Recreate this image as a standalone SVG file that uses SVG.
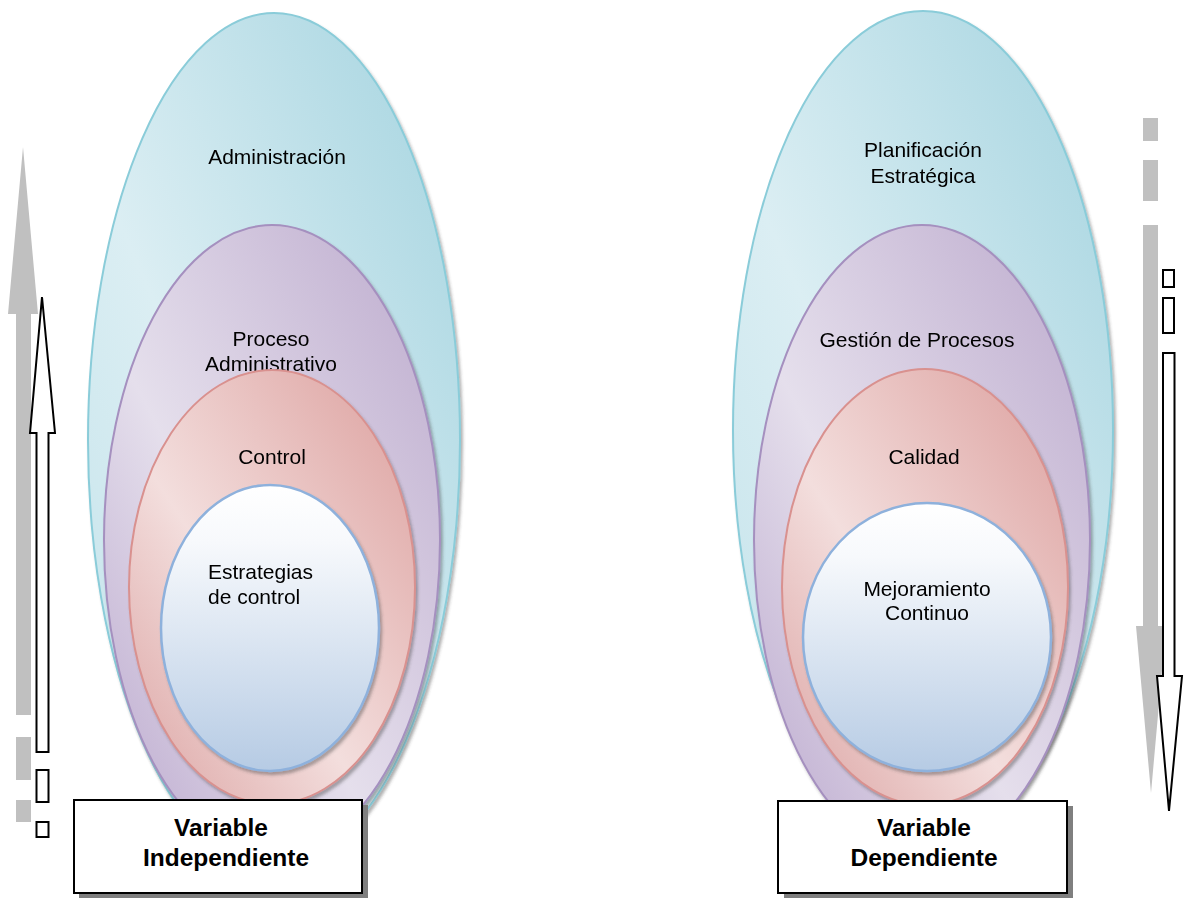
<svg xmlns="http://www.w3.org/2000/svg" width="1186" height="898" viewBox="0 0 1186 898">
<defs>
<linearGradient id="gCyan" x1="0" y1="1" x2="1" y2="0">
<stop offset="0" stop-color="#c2e2ea"/>
<stop offset="0.42" stop-color="#dbeef3"/>
<stop offset="1" stop-color="#a3d3df"/>
</linearGradient>
<linearGradient id="gPurple" x1="0" y1="1" x2="1" y2="0">
<stop offset="0" stop-color="#b9a6cc"/>
<stop offset="0.42" stop-color="#e5dfec"/>
<stop offset="1" stop-color="#bcaacd"/>
</linearGradient>
<linearGradient id="gRed" x1="0" y1="1" x2="1" y2="0">
<stop offset="0" stop-color="#dba2a1"/>
<stop offset="0.42" stop-color="#f3dedd"/>
<stop offset="1" stop-color="#dc9f9d"/>
</linearGradient>
<linearGradient id="gBlue" x1="0" y1="0" x2="0" y2="1">
<stop offset="0" stop-color="#ffffff"/>
<stop offset="0.2" stop-color="#f7f9fc"/>
<stop offset="1" stop-color="#b6cbe4"/>
</linearGradient>
<filter id="sh" x="-10%" y="-10%" width="125%" height="125%">
<feDropShadow dx="2" dy="3" stdDeviation="1.5" flood-color="#404040" flood-opacity="0.4"/>
</filter>
<style>
.cy{fill:url(#gCyan);stroke:#8accd9;stroke-width:2}
.pu{fill:url(#gPurple);stroke:#a590bf;stroke-width:2}
.re{fill:url(#gRed);stroke:#d9918f;stroke-width:2}
.bl{fill:url(#gBlue);stroke:#8eb1dc;stroke-width:2.5}
.lbl{font-family:"Liberation Sans",Arial,sans-serif;font-size:21px;fill:#000}
.c{text-anchor:middle}
.box{fill:#fff;stroke:#000;stroke-width:2}
.shd{fill:#7f7f7f}
.bt{font-family:"Liberation Sans",Arial,sans-serif;font-size:24.5px;font-weight:bold;fill:#000;text-anchor:middle}
.ga{fill:#c0c0c0}
.wa{fill:#fff;stroke:#000;stroke-width:2;stroke-linejoin:miter}
</style>
</defs>
<rect width="1186" height="898" fill="#fff"/>

<g id="arrows">
<polygon class="ga" points="23,147 38,314 31,314 31,715 16,715 16,314 8,314"/>
<rect class="ga" x="16" y="737" width="15" height="43"/>
<rect class="ga" x="16" y="800" width="15" height="22"/>
<polygon class="wa" points="42,297 55,433 48.5,433 48.5,752 36.5,752 36.5,433 30,433"/>
<rect class="wa" x="36.5" y="770" width="12" height="32"/>
<rect class="wa" x="36.5" y="822" width="12" height="15"/>

<rect class="ga" x="1143" y="118" width="15" height="23"/>
<rect class="ga" x="1143" y="160" width="15" height="41"/>
<polygon class="ga" points="1143,225 1158,225 1158,626 1166,626 1151,793 1136,626 1143,626"/>
<rect class="wa" x="1163" y="270" width="11" height="17"/>
<rect class="wa" x="1163" y="298" width="11" height="35"/>
<polygon class="wa" points="1163,353 1174.5,353 1174.5,676 1182,676 1169,811 1157,676 1163,676"/>
</g>

<g id="administracion" filter="url(#sh)">
<ellipse class="cy" cx="274" cy="440" rx="186" ry="427"/>
<text class="lbl c" x="277" y="164">Administración</text>
</g>
<g id="proceso-administrativo" filter="url(#sh)">
<ellipse class="pu" cx="272" cy="540" rx="168" ry="315"/>
<text class="lbl c" x="271" y="346">Proceso</text>
<text class="lbl c" x="271" y="371">Administrativo</text>
</g>
<g id="control" filter="url(#sh)">
<ellipse class="re" cx="272" cy="587" rx="143" ry="217"/>
<text class="lbl c" x="272" y="464">Control</text>
</g>
<g id="estrategias" filter="url(#sh)">
<ellipse class="bl" cx="270" cy="628" rx="109" ry="143"/>
<text class="lbl" x="208" y="579">Estrategias</text>
<text class="lbl" x="208" y="604">de control</text>
</g>

<g id="planificacion" filter="url(#sh)">
<ellipse class="cy" cx="923" cy="430" rx="190" ry="419"/>
<text class="lbl c" x="923" y="157">Planificación</text>
<text class="lbl c" x="923" y="183">Estratégica</text>
</g>
<g id="gestion-procesos" filter="url(#sh)">
<ellipse class="pu" cx="922" cy="540" rx="168" ry="315"/>
<text class="lbl c" x="917" y="347">Gestión de Procesos</text>
</g>
<g id="calidad" filter="url(#sh)">
<ellipse class="re" cx="925" cy="587" rx="143" ry="218"/>
<text class="lbl c" x="924" y="464">Calidad</text>
</g>
<g id="mejoramiento" filter="url(#sh)">
<ellipse class="bl" cx="927" cy="637" rx="124" ry="134"/>
<text class="lbl c" x="927" y="596">Mejoramiento</text>
<text class="lbl c" x="927" y="620">Continuo</text>
</g>

<g id="variable-independiente">
<rect class="shd" x="79" y="805" width="289" height="93"/>
<rect class="box" x="74" y="800" width="288" height="93"/>
<text class="bt" x="221" y="836">Variable</text>
<text class="bt" x="226" y="866">Independiente</text>
</g>
<g id="variable-dependiente">
<rect class="shd" x="784" y="806" width="289" height="92"/>
<rect class="box" x="778" y="801" width="289" height="92"/>
<text class="bt" x="924" y="836">Variable</text>
<text class="bt" x="924" y="866">Dependiente</text>
</g>
</svg>
